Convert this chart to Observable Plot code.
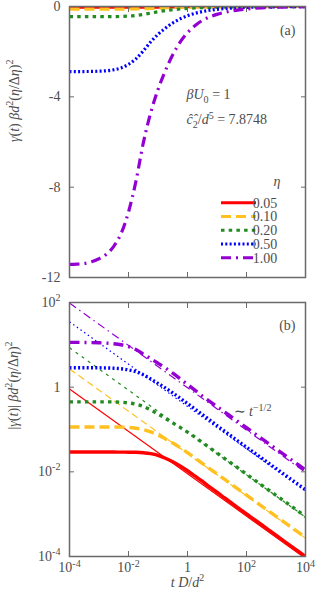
<!DOCTYPE html>
<html><head><meta charset="utf-8">
<script src="https://cdn.jsdelivr.net/npm/d3@7"></script>
<script src="https://cdn.jsdelivr.net/npm/@observablehq/plot@0.6"></script>
<style>
body{margin:0;background:#fff}
#chart{width:316px;height:600px;position:relative;background:#fff}
#chart svg{display:block}
#chart svg text, #chart svg tspan{font-family:"Liberation Serif", serif !important}
</style>
</head><body><div id="chart"></div>
<script>
// log10(t D/d^2) sample grid
const logT = [-4,-3.75,-3.5,-3.25,-3,-2.75,-2.5,-2.25,-2,-1.75,-1.5,-1.25,-1,-0.75,-0.5,-0.25,0,0.25,0.5,0.75,1,1.25,1.5,1.75,2,2.25,2.5,2.75,3,3.25,3.5,3.75,4];
const etaLabels = ["0.05","0.10","0.20","0.50","1.00"];
// |gamma(t)| beta d^2 (eta/Delta eta)^2
const g005 = [0.0293,0.0293,0.0293,0.0293,0.0293,0.0293,0.0293,0.0292,0.0291,0.0289,0.0283,0.0270,0.0246,0.0210,0.0172,0.0137,0.0106,0.0080,0.0060,0.0044,0.0033,0.00245,0.00182,0.00136,0.00101,0.00076,0.00057,0.000425,0.000318,0.000238,0.000178,0.000134,0.0001];
const g010 = [0.115,0.115,0.115,0.115,0.115,0.115,0.115,0.114,0.112,0.107,0.099,0.088,0.074,0.060,0.048,0.037,0.0285,0.0213,0.0159,0.0119,0.0089,0.0067,0.0050,0.00375,0.00281,0.00211,0.00158,0.00119,0.00089,0.00067,0.0005,0.000375,0.00028];
const g020 = [0.45,0.45,0.45,0.45,0.45,0.45,0.447,0.44,0.425,0.395,0.35,0.29,0.233,0.183,0.143,0.112,0.087,0.066,0.0495,0.0372,0.0279,0.0209,0.0157,0.0118,0.0088,0.0066,0.00495,0.00372,0.00279,0.00209,0.00157,0.00118,0.00088];
const g050 = [2.88,2.88,2.88,2.875,2.865,2.845,2.80,2.72,2.56,2.32,1.97,1.57,1.23,0.96,0.73,0.55,0.41,0.305,0.226,0.168,0.124,0.092,0.0685,0.051,0.038,0.0285,0.0214,0.016,0.012,0.009,0.00676,0.00507,0.0038];
const g100 = [11.42,11.41,11.38,11.3,11.17,10.97,10.62,10.05,9.1,7.75,6.05,4.72,3.68,2.84,2.14,1.58,1.16,0.85,0.619,0.464,0.348,0.261,0.196,0.147,0.11,0.0825,0.0619,0.0464,0.0348,0.0261,0.0196,0.0147,0.011];
// t^(-1/2) asymptotes: value at t = 1e-4 and at t = 1e4
const asymT = [1e-4, 1e4];
const asymStart = [0.90, 2.7, 8.5, 35, 97];
const asymEnd = [0.00009, 0.00027, 0.00085, 0.0035, 0.0097];
// ticks
const xTicks = [1e-4,1e-2,1,1e2,1e4];
const xTickLabels = ["10^{-4}","10^{-2}","1","10^{2}","10^{4}"];
const yTicksTop = [0,-4,-8,-12];
const yTickLabelsTop = ["0","-4","-8","-12"];
const yTicksBottom = [1e2,1,1e-2,1e-4];
const yTickLabelsBottom = ["10^{2}","1","10^{-2}","10^{-4}"];

const series = [g005,g010,g020,g050,g100];
const colors = ["#ff0000","#ffc020","#228b22","#0000ff","#9400d3"];
const dashThick = [null,"10,5","3.5,4.2","2,2.3","10,5,2,5"];
const dashThin = [null,"7,4","3,4.5","1.5,3","8,4,1.5,4"];
const font = "Liberation Serif";
const ink = "#4d4d4d";
const frameColor = "#6a6a6a";
const FS = 14;

const lookup = (ticks, labels) => { const m = new Map(ticks.map((t,i)=>[t,labels[i]])); return d => m.get(d) ?? ""; };
const rows = series.map((vals,i)=>vals.map((v,j)=>({t:10**logT[j], g:v, eta:etaLabels[i]})));
const asymRows = etaLabels.map((eta,i)=>[{t:asymT[0],g:asymStart[i],eta},{t:asymT[1],g:asymEnd[i],eta}]);

function tickMarks(ticksX, ticksY){
  return [
    Plot.axisX(ticksX,{anchor:"bottom",tickSize:-5,tickFormat:()=>"",label:null,stroke:frameColor}),
    Plot.axisX(ticksX,{anchor:"top",tickSize:-5,tickFormat:()=>"",label:null,stroke:frameColor}),
    Plot.axisY(ticksY,{anchor:"left",tickSize:-5,tickFormat:()=>"",label:null,stroke:frameColor}),
    Plot.axisY(ticksY,{anchor:"right",tickSize:-5,tickFormat:()=>"",label:null,stroke:frameColor})
  ];
}
const styleObj = {fontFamily:font, fontSize:FS+"px", color:ink, background:"white", overflow:"visible"};

const topPlot = Plot.plot({
  width:316, height:290, marginLeft:69, marginRight:11, marginTop:6, marginBottom:13,
  style:styleObj,
  x:{type:"log", domain:[1e-4,1e4]},
  y:{domain:[-12,0]},
  marks:[
    ...rows.map((r,i)=>Plot.line(r,{x:"t", y:d=>-d.g, stroke:colors[i], strokeWidth:3.2, strokeDasharray:dashThick[i], strokeLinecap:"butt", curve:"monotone-x", clip:true})),
    ...tickMarks(xTicks, yTicksTop),
    Plot.frame({stroke:frameColor, strokeWidth:1.5}),
    Plot.axisY(yTicksTop,{anchor:"left",tickSize:0,tickPadding:9,tickFormat:lookup(yTicksTop,yTickLabelsTop),label:null}),
    Plot.text(["`γ`(`t`) `βd`^{2}(`η`/Δ`η`)^{2}"],{frameAnchor:"left", rotate:-90, dx:-55, fill:ink}),
    Plot.text(["(a)"],{frameAnchor:"top-right", textAnchor:"end", dx:-10, dy:19, fill:ink}),
    Plot.text(["`β``U`_{0} = 1"],{frameAnchor:"top-left", textAnchor:"start", dx:117, dy:83, fill:ink}),
    Plot.text(["`c\u0302\u0302`_{2}/`d`^{5} = 7.8748"],{frameAnchor:"top-left", textAnchor:"start", dx:117, dy:108, fill:ink})
  ]
});

const bottomPlot = Plot.plot({
  width:316, height:310, marginLeft:69, marginRight:11, marginTop:12, marginBottom:44,
  style:styleObj,
  x:{type:"log", domain:[1e-4,1e4]},
  y:{type:"log", domain:[1e-4,1e2]},
  marks:[
    ...asymRows.map((r,i)=>Plot.line(r,{x:"t", y:"g", stroke:colors[i], strokeWidth:1.2, strokeDasharray:dashThin[i], strokeLinecap:"butt", clip:true})),
    ...rows.map((r,i)=>Plot.line(r,{x:"t", y:"g", stroke:colors[i], strokeWidth:3.4, strokeDasharray:dashThick[i], strokeLinecap:"butt", curve:"monotone-x", clip:true})),
    ...tickMarks(xTicks, yTicksBottom),
    Plot.frame({stroke:frameColor, strokeWidth:1.5}),
    Plot.axisY(yTicksBottom,{anchor:"left",tickSize:0,tickPadding:9,tickFormat:lookup(yTicksBottom,yTickLabelsBottom),label:null}),
    Plot.axisX(xTicks,{anchor:"bottom",tickSize:0,tickPadding:6,tickFormat:lookup(xTicks,xTickLabels),label:null}),
    Plot.text(["|`γ`(`t`)| `βd`^{2}(`η`/Δ`η`)^{2}"],{frameAnchor:"left", rotate:-90, dx:-56, fill:ink}),
    Plot.text(["`t` `D`/`d`^{2}"],{frameAnchor:"bottom", dy:30, fill:ink}),
    Plot.text(["(b)"],{frameAnchor:"top-right", textAnchor:"end", dx:-10, dy:18, fill:ink}),
    Plot.text(["∼ `t`^{−1/2}"],{frameAnchor:"top-left", textAnchor:"start", dx:164, dy:104, fill:ink})
  ]
});

// legend (top panel)
const leg = d3.select(topPlot).append("g").attr("font-size",FS).attr("fill",ink);
leg.append("text").attr("x",277).attr("y",186).attr("text-anchor","middle").attr("font-style","italic").text("η");
etaLabels.forEach((lab,i)=>{
  const y = 202.7 + 13.75*i;
  leg.append("line").attr("x1",221).attr("x2",256).attr("y1",y).attr("y2",y)
    .attr("stroke",colors[i]).attr("stroke-width",3).attr("stroke-dasharray",dashThick[i]);
  leg.append("text").attr("x",265).attr("y",y+4.8).text(lab);
});

// simple rich-text: `...` italic, ^{..} superscript, _{..} subscript
function rich(el, src, fs){
  const sel = d3.select(el); sel.text(null);
  let italic=false, shift=0, buf="", level=0;
  function emit(){
    if(!buf) return;
    const target = level===1 ? -fs*0.42 : level===-1 ? fs*0.25 : 0;
    const ts = sel.append("tspan").text(buf);
    if(target!==shift){ ts.attr("dy", target-shift); shift=target; }
    if(level) ts.attr("font-size", fs*0.72);
    if(italic) ts.attr("font-style","italic");
    buf="";
  }
  for(let i=0;i<src.length;i++){
    const c=src[i];
    if(c==="`"){ emit(); italic=!italic; }
    else if((c==="^"||c==="_") && src[i+1]==="{"){ emit(); level = c==="^"?1:-1; i++; }
    else if(c==="}" && level!==0){ emit(); level=0; }
    else buf+=c;
  }
  emit();
}
for(const svg of [topPlot,bottomPlot]){
  svg.querySelectorAll("text").forEach(el=>{
    const s = el.textContent;
    if(s.includes("`")||s.includes("^{")||s.includes("_{")) rich(el, s, FS);
    el.style.fontFamily = font;
  });
}

const root = document.getElementById("chart");
root.appendChild(topPlot);
root.appendChild(bottomPlot);
</script>
</body></html>
